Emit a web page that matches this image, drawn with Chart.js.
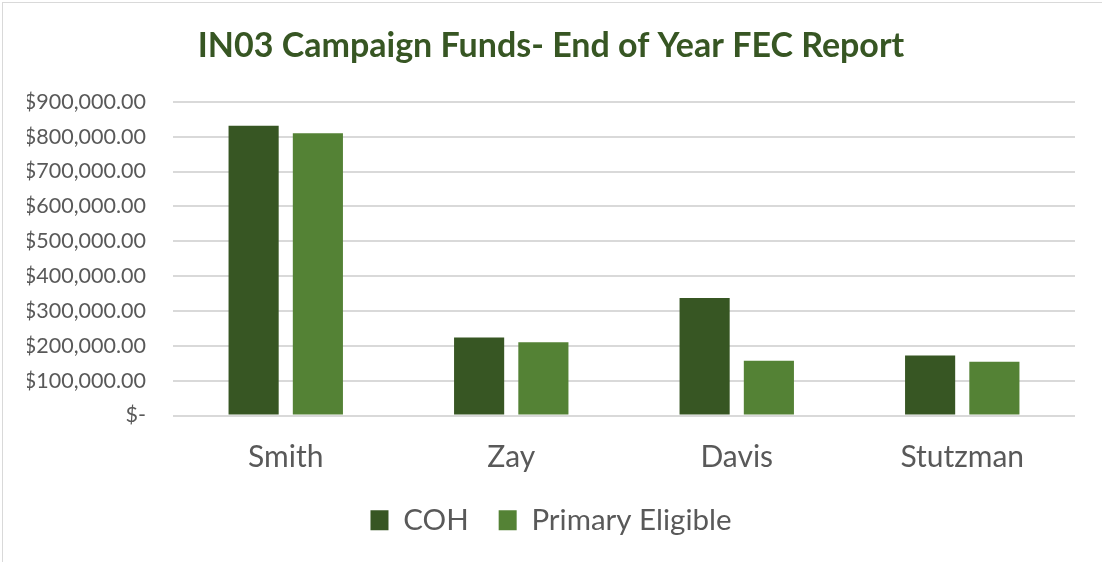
<!DOCTYPE html>
<html>
<head>
<meta charset="utf-8">
<script src="https://cdn.jsdelivr.net/npm/chart.js@4.4.1/dist/chart.umd.min.js"></script>
<style>
  body { margin: 0; background: #fff; }
  .chart-box { position: relative; width: 1102px; height: 562px; }
  .frame { position: absolute; left: 2px; top: 2px; width: 1110px; height: 570px; border: 1px solid #d9d9d9; }
</style>
</head>
<body>
<div class="chart-box">
  <div class="frame"></div>
  <canvas id="funds-chart" width="1102" height="562"></canvas>
</div>
<script>
const candidates = ['Smith', 'Zay', 'Davis', 'Stutzman']
const cohValues = [831000, 224000, 337000, 172000]
const primaryEligibleValues = [810000, 210000, 157000, 154000]
const yTicks = [0, 100000, 200000, 300000, 400000, 500000, 600000, 700000, 800000, 900000]

function formatMoney(value) {
  if (value === 0) return '$-'
  return '$' + value.toLocaleString('en-US', { minimumFractionDigits: 2, maximumFractionDigits: 2 })
}

// legend padding also sets the gap between items, so pull the row back up a bit
const legendNudge = {
  id: 'legendNudge',
  afterLayout(chart) {
    chart.legend.top -= 24
    chart.legend.bottom -= 24
  }
}

const fundsCtx = document.getElementById('funds-chart')

const fundsChart = new Chart(fundsCtx, {
  type: 'bar',
  data: {
    labels: candidates,
    datasets: [{
      label: 'COH',
      data: cohValues,
      backgroundColor: '#375623',
      categoryPercentage: 0.57,
      barPercentage: 0.78
    }, {
      label: 'Primary Eligible',
      data: primaryEligibleValues,
      backgroundColor: '#548235',
      categoryPercentage: 0.57,
      barPercentage: 0.78
    }]
  },
  options: {
    responsive: false,
    animation: false,
    layout: {
      padding: { left: 27, right: 27, top: 0, bottom: -7 }
    },
    scales: {
      x: {
        grid: { display: false, drawTicks: false },
        border: { display: false },
        ticks: {
          color: '#595959',
          padding: 24,
          font: { size: 30, family: 'Lato' }
        }
      },
      y: {
        min: 0,
        max: 900000,
        afterBuildTicks: (axis) => {
          axis.ticks = yTicks.map(v => ({ value: v }))
        },
        afterFit: (axis) => {
          axis.width = 146
        },
        grid: { color: '#d9d9d9', lineWidth: 2, drawTicks: false },
        border: { display: false },
        ticks: {
          color: '#595959',
          padding: 27,
          font: { size: 21.5, family: 'Lato' },
          callback: (value) => formatMoney(value)
        }
      }
    },
    plugins: {
      title: {
        display: true,
        text: 'IN03 Campaign Funds- End of Year FEC Report',
        color: '#375623',
        font: { size: 34, weight: 'bold', family: 'Lato' },
        padding: { top: 26, bottom: 35 }
      },
      legend: {
        position: 'bottom',
        labels: {
          color: '#595959',
          boxWidth: 18,
          boxHeight: 20,
          padding: 30,
          font: { size: 29.5, family: 'Lato' }
        }
      },
      tooltip: { enabled: false }
    }
  },
  plugins: [legendNudge]
})
</script>
</body>
</html>
